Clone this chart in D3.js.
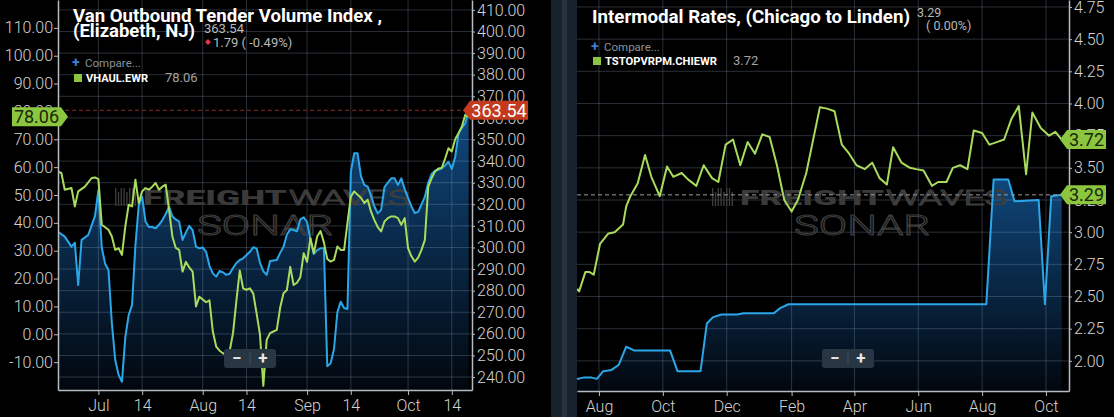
<!DOCTYPE html>
<html>
<head>
<meta charset="utf-8">
<title>Van Outbound Tender Volume Index / Intermodal Rates</title>
<script src="https://cdn.jsdelivr.net/npm/d3@7/dist/d3.min.js"></script>
<style>
  html, body { margin: 0; padding: 0; background: #000; }
  svg { display: block; font-family: Roboto, "Noto Sans", "DejaVu Sans", sans-serif; }
</style>
</head>
<body>
<svg id="chart" width="1114" height="417"></svg>
<script>
// ---- left panel: Elizabeth, NJ, summer/fall 2020 ----
const otviDates = [
  "2020-06-19","2020-06-21","2020-06-23","2020-06-24","2020-06-25","2020-06-26","2020-06-28","2020-06-30",
  "2020-07-01","2020-07-02","2020-07-03","2020-07-04","2020-07-05","2020-07-06","2020-07-07","2020-07-08",
  "2020-07-09","2020-07-10","2020-07-11","2020-07-12","2020-07-13","2020-07-14","2020-07-15","2020-07-16",
  "2020-07-17","2020-07-18","2020-07-19","2020-07-20","2020-07-21","2020-07-22","2020-07-23","2020-07-24",
  "2020-07-25","2020-07-26","2020-07-27","2020-07-28","2020-07-29","2020-07-30","2020-07-31","2020-08-01",
  "2020-08-02","2020-08-03","2020-08-04","2020-08-05","2020-08-06","2020-08-07","2020-08-08","2020-08-09",
  "2020-08-10","2020-08-11","2020-08-12","2020-08-13","2020-08-14","2020-08-15","2020-08-16","2020-08-17",
  "2020-08-18","2020-08-19","2020-08-20","2020-08-21","2020-08-22","2020-08-23","2020-08-24","2020-08-25",
  "2020-08-26","2020-08-27","2020-08-28","2020-08-29","2020-08-30","2020-08-31","2020-09-01","2020-09-02",
  "2020-09-03","2020-09-04","2020-09-05","2020-09-06","2020-09-07","2020-09-08","2020-09-09","2020-09-10",
  "2020-09-11","2020-09-12","2020-09-13","2020-09-14","2020-09-15","2020-09-16","2020-09-17","2020-09-18",
  "2020-09-19","2020-09-20","2020-09-21","2020-09-22","2020-09-23","2020-09-24","2020-09-25","2020-09-26",
  "2020-09-27","2020-09-28","2020-09-29","2020-09-30","2020-10-01","2020-10-02","2020-10-03","2020-10-04",
  "2020-10-05","2020-10-06","2020-10-07","2020-10-08","2020-10-09","2020-10-10","2020-10-11","2020-10-12",
  "2020-10-13","2020-10-14","2020-10-15","2020-10-16","2020-10-17","2020-10-18","2020-10-19"
];
const otviValues = [
  307.3, 305.0, 300.4, 302.2, 282.6, 303.5, 305.8, 314.6,
  326.6, 300.0, 292.5, 289.6, 265.0, 247.9, 241.0, 237.8,
  258.5, 268.7, 273.4, 301.0, 319.7, 323.5, 312.0, 309.5,
  309.5, 308.9, 310.5, 312.7, 315.5, 318.9, 314.3, 313.0,
  312.0, 303.5, 307.0, 310.0, 308.0, 300.4, 299.6, 300.0,
  298.0, 291.5, 288.0, 286.5, 289.1, 288.5, 287.3, 287.8,
  290.5, 292.8, 294.2, 295.0, 296.5, 298.0, 300.1, 299.6,
  293.0, 289.0, 287.3, 293.7, 294.0, 294.2, 297.5, 300.4,
  306.0, 308.4, 308.1, 307.5, 313.0, 314.0, 311.8, 303.5,
  297.0, 298.8, 299.6, 299.6, 245.0, 246.4, 253.0, 270.0,
  274.9, 272.0, 271.5, 335.0, 343.6, 343.6, 333.0, 329.0,
  328.2, 324.0, 319.0, 315.8, 317.4, 328.0, 330.0, 332.0,
  332.0, 329.0, 332.0, 327.0, 323.0, 319.0, 316.0, 316.5,
  320.0, 323.5, 330.0, 334.0, 335.5, 336.0, 336.7, 338.0,
  339.7, 336.4, 341.9, 352.9, 355.5, 357.5, 363.54
];
const vhaulDates = [
  "2020-06-19","2020-06-20","2020-06-21","2020-06-23","2020-06-24","2020-06-25","2020-06-27","2020-06-29",
  "2020-06-30","2020-07-01","2020-07-02","2020-07-04","2020-07-05","2020-07-06","2020-07-07","2020-07-08",
  "2020-07-09","2020-07-10","2020-07-11","2020-07-12","2020-07-13","2020-07-14","2020-07-15","2020-07-16",
  "2020-07-17","2020-07-18","2020-07-19","2020-07-20","2020-07-21","2020-07-22","2020-07-23","2020-07-24",
  "2020-07-25","2020-07-26","2020-07-27","2020-07-28","2020-07-29","2020-07-30","2020-07-31","2020-08-01",
  "2020-08-02","2020-08-03","2020-08-04","2020-08-05","2020-08-06","2020-08-07","2020-08-08","2020-08-09",
  "2020-08-10","2020-08-11","2020-08-12","2020-08-13","2020-08-14","2020-08-15","2020-08-16","2020-08-17",
  "2020-08-18","2020-08-19","2020-08-20","2020-08-21","2020-08-22","2020-08-23","2020-08-24","2020-08-25",
  "2020-08-26","2020-08-27","2020-08-28","2020-08-29","2020-08-30","2020-08-31","2020-09-01","2020-09-02",
  "2020-09-03","2020-09-04","2020-09-05","2020-09-06","2020-09-07","2020-09-08","2020-09-09","2020-09-10",
  "2020-09-11","2020-09-12","2020-09-13","2020-09-14","2020-09-15","2020-09-16","2020-09-17","2020-09-18",
  "2020-09-19","2020-09-20","2020-09-21","2020-09-22","2020-09-23","2020-09-24","2020-09-25","2020-09-26",
  "2020-09-27","2020-09-28","2020-09-29","2020-09-30","2020-10-01","2020-10-02","2020-10-03","2020-10-04",
  "2020-10-05","2020-10-06","2020-10-07","2020-10-08","2020-10-09","2020-10-10","2020-10-11","2020-10-12",
  "2020-10-13","2020-10-14","2020-10-15","2020-10-16","2020-10-17","2020-10-18","2020-10-19"
];
const vhaulValues = [
  58.4, 57.9, 51.9, 52.5, 45.9, 51.3, 53.0, 56.1,
  56.3, 55.7, 39.3, 37.5, 35.1, 30.3, 30.9, 28.5,
  38.7, 46.5, 45.9, 55.5, 47.1, 51.3, 52.5, 51.9,
  53.0, 54.3, 51.9, 53.0, 53.7, 44.7, 35.0, 31.0,
  30.3, 22.5, 26.0, 24.0, 22.5, 10.0, 13.5, 12.5,
  11.5, 12.2, 1.0, -4.4, -5.9, -6.8, -7.5, -6.0,
  0.4, 12.0, 22.9, 16.5, 16.0, 16.5, 14.7, 7.5,
  0.0, -18.5, -2.0, 0.4, 1.0, 1.6, 9.5, 14.7,
  15.9, 24.2, 17.7, 18.5, 20.5, 29.1, 26.0, 34.6,
  29.1, 35.1, 37.1, 33.0, 27.0, 26.1, 26.7, 31.5,
  30.3, 30.3, 40.0, 49.4, 51.3, 50.1, 49.0, 47.1,
  48.3, 44.0, 41.0, 38.5, 36.9, 40.5, 41.7, 42.3,
  42.3, 41.7, 39.3, 41.7, 30.9, 28.0, 26.1, 27.5,
  30.3, 33.9, 53.0, 56.0, 58.4, 59.5, 59.7, 63.0,
  66.8, 65.6, 70.0, 72.2, 74.6, 78.8, 78.06
];
const otviTicks = [240, 250, 260, 270, 280, 290, 300, 310, 320, 330, 340, 350, 360, 370, 380, 390, 400, 410];
const vhaulTicks = [-10, 0, 10, 20, 30, 40, 50, 60, 70, 80, 90, 100, 110];
const leftDateTicks = ["2020-07-01","2020-07-14","2020-08-01","2020-08-14","2020-09-01","2020-09-14","2020-10-01","2020-10-14"];

// ---- right panel: Chicago to Linden, mid 2019 to fall 2020 ----
const intermodalDates = [
  "2019-07-11","2019-07-17","2019-07-25","2019-07-30","2019-08-05","2019-08-13","2019-08-20","2019-08-27",
  "2019-09-04","2019-10-08","2019-10-15","2019-11-06","2019-11-12","2019-11-18","2019-11-26","2019-12-11",
  "2019-12-17","2020-01-15","2020-01-21","2020-01-29","2020-08-05","2020-08-12","2020-08-26","2020-09-01",
  "2020-09-24","2020-09-30","2020-10-06","2020-10-16"
];
const intermodalRates = [
  1.86, 1.87, 1.87, 1.86, 1.92, 1.93, 1.97, 2.11,
  2.08, 2.08, 1.92, 1.92, 2.29, 2.34, 2.36, 2.36,
  2.37, 2.37, 2.41, 2.44, 2.44, 3.41, 3.41, 3.24,
  3.25, 2.44, 3.28, 3.29
];
const truckDates = [
  "2019-07-11","2019-07-13","2019-07-19","2019-07-23","2019-07-27","2019-08-02","2019-08-10","2019-08-16",
  "2019-08-24","2019-08-27","2019-08-31","2019-09-07","2019-09-14","2019-09-20","2019-09-28","2019-10-05",
  "2019-10-11","2019-10-19","2019-10-25","2019-11-02","2019-11-09","2019-11-17","2019-11-23","2019-11-30",
  "2019-12-07","2019-12-14","2019-12-21","2019-12-28","2020-01-04","2020-01-11","2020-01-18","2020-01-25",
  "2020-02-01","2020-02-07","2020-02-15","2020-02-28","2020-03-06","2020-03-13","2020-03-20","2020-03-27",
  "2020-04-03","2020-04-11","2020-04-18","2020-04-25","2020-05-02","2020-05-08","2020-05-16","2020-05-24",
  "2020-05-30","2020-06-06","2020-06-14","2020-06-20","2020-06-28","2020-07-04","2020-07-11","2020-07-18",
  "2020-07-24","2020-08-01","2020-08-08","2020-08-15","2020-08-22","2020-08-29","2020-09-05","2020-09-12",
  "2020-09-18","2020-09-26","2020-10-04","2020-10-10","2020-10-16"
];
const truckRates = [
  2.56, 2.54, 2.69, 2.69, 2.67, 2.91, 2.99, 3.00,
  3.06, 3.20, 3.28, 3.38, 3.60, 3.43, 3.28, 3.51,
  3.43, 3.46, 3.41, 3.36, 3.52, 3.42, 3.39, 3.68,
  3.72, 3.52, 3.70, 3.61, 3.76, 3.74, 3.52, 3.25,
  3.16, 3.25, 3.46, 3.97, 3.96, 3.94, 3.68, 3.61,
  3.52, 3.49, 3.54, 3.42, 3.37, 3.66, 3.54, 3.50,
  3.49, 3.48, 3.36, 3.39, 3.39, 3.50, 3.52, 3.49,
  3.79, 3.77, 3.68, 3.70, 3.72, 3.88, 3.98, 3.45,
  3.93, 3.81, 3.75, 3.78, 3.72
];
const rateTicks = [2.00, 2.25, 2.50, 2.75, 3.00, 3.25, 3.50, 3.75, 4.00, 4.25, 4.50, 4.75];
const rightDateTicks = ["2019-08-01","2019-10-01","2019-12-01","2020-02-01","2020-04-01","2020-06-01","2020-08-01","2020-10-01"];

const parse = d3.timeParse("%Y-%m-%d");
const series = (dates, values) => dates.map((d, i) => ({ date: parse(d), value: values[i] }));

const blue = "#2ba7e9", green = "#a9dc5c", legendGreen = "#8cc63f";
const gridColor = "rgba(150,172,198,0.27)";
const axisColor = "#b7bcc2", labelColor = "#d4d4d4";

const svg = d3.select("#chart");
const defs = svg.append("defs");

// scales
const xLeft = d3.scaleTime().domain([parse("2020-06-19"), parse("2020-10-20")]).range([58, 472]);
const yOtvi = d3.scaleLinear().domain([234, 414.6]).range([390, 0]);
const yVhaul = d3.scaleLinear().domain([-20, 120]).range([390, 0]);
const xRight = d3.scaleTime().domain([parse("2019-07-11"), parse("2020-10-23")]).range([577, 1069]);
const yRate = d3.scaleLinear().domain([1.766, 4.804]).range([391, 0]);

const dateLabel = d => d.getDate() === 1 ? d3.timeFormat("%b")(d) : d3.timeFormat("%-d")(d);

function styleAxis(g) {
  g.attr("font-family", null).attr("font-size", null);
  g.selectAll(".domain").attr("stroke", axisColor).attr("stroke-width", 1.5);
  g.selectAll(".tick line").attr("stroke", axisColor);
  g.selectAll(".tick text").attr("fill", labelColor).attr("font-size", 16).attr("font-weight", 300);
}

function watermark(g, x0) {
  const mark = g.append("g");
  // little striped logo in front of the word mark
  mark.append("g").selectAll("rect").data(d3.range(8)).join("rect")
    .attr("x", i => x0 + i * 2.8).attr("y", i => (i % 3 === 1 ? 192 : 188))
    .attr("width", 1.4).attr("height", i => (i % 3 === 1 ? 14 : 18))
    .attr("fill", "#3a3a3a");
  mark.append("text").attr("x", x0 + 28).attr("y", 205)
    .attr("font-size", 21).attr("font-weight", 900).attr("fill", "#3a3a3a")
    .attr("textLength", 144).attr("lengthAdjust", "spacingAndGlyphs").text("FREIGHT");
  mark.append("text").attr("x", x0 + 174).attr("y", 205)
    .attr("font-size", 21).attr("font-weight", 300).attr("fill", "none")
    .attr("stroke", "#3e3e3e").attr("stroke-width", 1)
    .attr("textLength", 121).attr("lengthAdjust", "spacingAndGlyphs").text("WAVES");
  mark.append("text").attr("x", x0 + 82).attr("y", 235)
    .attr("font-size", 28).attr("font-weight", 300).attr("fill", "none")
    .attr("stroke", "#3e3e3e").attr("stroke-width", 1)
    .attr("textLength", 136).attr("lengthAdjust", "spacingAndGlyphs").text("SONAR");
}

// price tag stuck to an axis, pointing at the last value
function badge(g, tipX, y, w, dir, fill, color, label) {
  const h = 19, a = 7, p = d3.path();
  const bx = dir > 0 ? tipX - a - w : tipX + a;
  p.moveTo(dir > 0 ? tipX - a : tipX + a, y - h / 2);
  p.lineTo(tipX, y);
  p.lineTo(dir > 0 ? tipX - a : tipX + a, y + h / 2);
  p.lineTo(dir > 0 ? bx : bx + w, y + h / 2);
  p.lineTo(dir > 0 ? bx : bx + w, y - h / 2);
  p.closePath();
  g.append("path").attr("d", p.toString()).attr("fill", fill);
  g.append("text").attr("x", bx + w / 2).attr("y", y).attr("dy", "0.36em")
    .attr("text-anchor", "middle").attr("font-size", 18).attr("fill", color).text(label);
}

function zoomButtons(g, x) {
  const zb = g.append("g").attr("transform", `translate(${x},349)`);
  zb.append("rect").attr("width", 52).attr("height", 19).attr("rx", 3).attr("fill", "#283542");
  zb.append("line").attr("x1", 26).attr("x2", 26).attr("y1", 3).attr("y2", 16).attr("stroke", "#3f4c59");
  zb.append("text").attr("x", 13).attr("y", 15).attr("text-anchor", "middle")
    .attr("font-size", 17).attr("font-weight", 700).attr("fill", "#e8e8e8").text("\u2212");
  zb.append("text").attr("x", 39).attr("y", 15).attr("text-anchor", "middle")
    .attr("font-size", 17).attr("font-weight", 700).attr("fill", "#e8e8e8").text("+");
}

function drawPanel(p) {
  const [x0, x1] = p.x.range();
  const g = svg.append("g");
  defs.append("clipPath").attr("id", p.id + "-clip")
    .append("rect").attr("x", x0).attr("y", 0).attr("width", x1 - x0).attr("height", p.bottom);
  const grad = defs.append("linearGradient").attr("id", p.id + "-fill")
    .attr("gradientUnits", "userSpaceOnUse")
    .attr("x1", 0).attr("x2", 0).attr("y1", p.fillTop).attr("y2", p.bottom);
  grad.append("stop").attr("offset", 0).attr("stop-color", "#10497f");
  grad.append("stop").attr("offset", 1).attr("stop-color", "#02070e");

  const plot = g.append("g").attr("clip-path", `url(#${p.id}-clip)`);
  plot.append("path").datum(p.main)
    .attr("fill", `url(#${p.id}-fill)`)
    .attr("d", d3.area().x(d => p.x(d.date)).y0(p.bottom).y1(d => p.yMain(d.value)));

  plot.append("g").selectAll("line").data(p.gridY).join("line")
    .attr("x1", x0).attr("x2", x1)
    .attr("y1", d => p.yMain(d)).attr("y2", d => p.yMain(d))
    .attr("stroke", gridColor);
  plot.append("g").selectAll("line").data(p.dateTicks).join("line")
    .attr("x1", d => p.x(d)).attr("x2", d => p.x(d))
    .attr("y1", 0).attr("y2", p.bottom)
    .attr("stroke", gridColor);

  watermark(plot, p.markX);

  plot.append("path").datum(p.main)
    .attr("fill", "none").attr("stroke", blue).attr("stroke-width", 2).attr("stroke-linejoin", "round")
    .attr("d", d3.line().x(d => p.x(d.date)).y(d => p.yMain(d.value)));
  plot.append("path").datum(p.comp)
    .attr("fill", "none").attr("stroke", green).attr("stroke-width", 2).attr("stroke-linejoin", "round")
    .attr("d", d3.line().x(d => p.x(d.date)).y(d => p.yComp(d.value)));

  // last-value guide
  const lastY = p.yMain(p.main[p.main.length - 1].value);
  g.append("line").attr("x1", x0).attr("x2", x1 - 8)
    .attr("y1", lastY).attr("y2", lastY)
    .attr("stroke", p.guideColor).attr("stroke-width", 1).attr("stroke-dasharray", "4,3");

  // axes
  g.append("g").attr("transform", `translate(0,${p.bottom})`)
    .call(d3.axisBottom(p.x).tickValues(p.dateTicks).tickFormat(p.dateFormat)
      .tickSize(5).tickPadding(5).tickSizeOuter(0))
    .call(styleAxis);
  g.append("g").attr("transform", `translate(${x1},0)`)
    .call(d3.axisRight(p.yMain).tickValues(p.gridY).tickFormat(d => d.toFixed(2))
      .tickSize(3).tickPadding(2).tickSizeOuter(0))
    .call(styleAxis);
  if (p.leftTicks) {
    g.append("g").attr("transform", `translate(${x0},0)`)
      .call(d3.axisLeft(p.yComp).tickValues(p.leftTicks).tickFormat(d => d.toFixed(2))
        .tickSize(4).tickPadding(1).tickSizeOuter(0))
      .call(styleAxis);
  }

  zoomButtons(g, p.zoomX);
  return g;
}

const otvi = series(otviDates, otviValues);
const vhaul = series(vhaulDates, vhaulValues);
const intermodal = series(intermodalDates, intermodalRates);
const truck = series(truckDates, truckRates);

// splitter between the two charts
svg.append("rect").attr("x", 551).attr("y", 0).attr("width", 26).attr("height", 417).attr("fill", "#18222d");
svg.append("rect").attr("x", 562).attr("y", 0).attr("width", 5).attr("height", 417).attr("fill", "#27323e");

const left = drawPanel({
  id: "left", x: xLeft, yMain: yOtvi, yComp: yVhaul, bottom: 390, fillTop: 110,
  main: otvi, comp: vhaul, gridY: otviTicks, leftTicks: vhaulTicks,
  dateTicks: leftDateTicks.map(parse), dateFormat: dateLabel,
  markX: 115, zoomX: 224, guideColor: "#8c2c20"
});
const right = drawPanel({
  id: "right", x: xRight, yMain: yRate, yComp: yRate, bottom: 391, fillTop: 170,
  main: intermodal, comp: truck, gridY: rateTicks, leftTicks: null,
  dateTicks: rightDateTicks.map(parse), dateFormat: d3.timeFormat("%b"),
  markX: 712, zoomX: 822, guideColor: "#9a9a9a"
});

// value tags on the axes
badge(left, 68, yVhaul(vhaulValues[vhaulValues.length - 1]), 49, 1, legendGreen, "#17290a",
  vhaulValues[vhaulValues.length - 1].toFixed(2));
badge(left, 463, yOtvi(otviValues[otviValues.length - 1]), 58, -1, "#c23b1e", "#ffffff",
  otviValues[otviValues.length - 1].toFixed(2));
badge(right, 1060, yRate(truckRates[truckRates.length - 1]), 39, -1, legendGreen, "#17290a",
  truckRates[truckRates.length - 1].toFixed(2));
badge(right, 1060, yRate(intermodalRates[intermodalRates.length - 1]), 39, -1, legendGreen, "#17290a",
  intermodalRates[intermodalRates.length - 1].toFixed(2));

// headers and legends
function header(g, h) {
  h.title.forEach((t, i) => {
    g.append("text").attr("x", h.x).attr("y", h.titleY[i])
      .attr("font-size", 19).attr("font-weight", 700).attr("fill", "#ffffff")
      .attr("textLength", h.titleLen[i]).attr("lengthAdjust", "spacingAndGlyphs").text(t);
  });
  g.append("text").attr("x", h.x - 1).attr("y", h.compareY)
    .attr("font-size", 14).attr("font-weight", 700).attr("fill", "#3f7fdc").text("+");
  g.append("text").attr("x", h.x + 12).attr("y", h.compareY)
    .attr("font-size", 11.5).attr("fill", "#8c9299").text("Compare...");
  g.append("rect").attr("x", h.x + 1).attr("y", h.legendY - 8).attr("width", 8).attr("height", 8)
    .attr("fill", legendGreen);
  g.append("text").attr("x", h.x + 13).attr("y", h.legendY)
    .attr("font-size", 11.5).attr("font-weight", 700).attr("fill", "#ffffff")
    .attr("textLength", h.symbolLen).attr("lengthAdjust", "spacingAndGlyphs").text(h.symbol);
  g.append("text").attr("x", h.valueX).attr("y", h.legendY)
    .attr("font-size", 13).attr("fill", "#a3a3a3").text(h.value);
}

header(left, {
  x: 73, title: ["Van Outbound Tender Volume Index ,", "(Elizabeth, NJ)"], titleY: [22, 37], titleLen: [309, 122],
  compareY: 67, legendY: 82, symbol: "VHAUL.EWR", symbolLen: 62, valueX: 165,
  value: vhaulValues[vhaulValues.length - 1].toFixed(2)
});
header(right, {
  x: 592, title: ["Intermodal Rates, (Chicago to Linden)"], titleY: [23], titleLen: [318],
  compareY: 51, legendY: 65, symbol: "TSTOPVRPM.CHIEWR", symbolLen: 112, valueX: 733,
  value: truckRates[truckRates.length - 1].toFixed(2)
});

// last price and change next to the titles
left.append("text").attr("x", 204).attr("y", 33).attr("font-size", 13).attr("fill", "#b9b9b9")
  .text(otviValues[otviValues.length - 1].toFixed(2));
left.append("path").attr("d", d3.symbol(d3.symbolDiamond2, 22)()).attr("transform", "translate(208,42)")
  .attr("fill", "#e8344b");
left.append("text").attr("x", 213).attr("y", 46.5).attr("font-size", 13).attr("fill", "#b9b9b9")
  .text("1.79 ( -0.49%)");
right.append("text").attr("x", 917).attr("y", 17).attr("font-size", 12.5).attr("fill", "#b9b9b9")
  .text(intermodalRates[intermodalRates.length - 1].toFixed(2));
right.append("text").attr("x", 926).attr("y", 29.5).attr("font-size", 12.5).attr("fill", "#b9b9b9")
  .text("( 0.00%)");
</script>
</body>
</html>
